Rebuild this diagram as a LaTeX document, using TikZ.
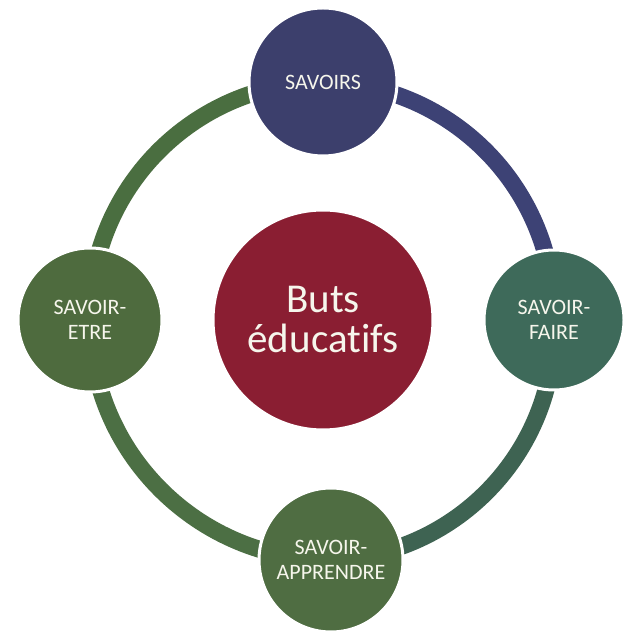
\documentclass[tikz,border=0pt]{standalone}
\usepackage{fontspec}
\setmainfont{Carlito}[Ligatures=NoCommon]
\definecolor{navyc}{HTML}{3C3F6C}
\definecolor{navyarc}{HTML}{3D4275}
\definecolor{greenL}{HTML}{4E6B3E}
\definecolor{tealR}{HTML}{3E6A5A}
\definecolor{greenB}{HTML}{4F6D42}
\definecolor{arcLT}{HTML}{4A6E40}
\definecolor{arcBL}{HTML}{4C6F44}
\definecolor{arcRB}{HTML}{3E6352}
\definecolor{maroon}{HTML}{8A1E32}
\definecolor{txt}{RGB}{246,246,236}
\tikzset{
  bubble/.style={circle, draw=white, line width=3pt, inner sep=0pt, text=txt, align=center,
                 font=\fontsize{22}{25}\selectfont},
  ringarc/.style={line width=17pt}
}
\begin{document}
\begin{tikzpicture}[x=1pt,y=1pt]
\useasboundingbox (0,0) rectangle (625,634);
\fill[white] (0,0) rectangle (625,634);
\coordinate (Tc) at (323,552);
\coordinate (Rc) at (554,314);
\coordinate (Bc) at (331,74);
\coordinate (Lc) at (90,314);
% ring arcs
\draw[ringarc, navyarc] (Tc) to[bend left=45] (Rc);
\draw[ringarc, arcRB] (Rc) to[bend left=45] (Bc);
\draw[ringarc, arcBL] (Bc) to[bend left=45] (Lc);
\draw[ringarc, arcLT] (Lc) to[bend left=45] (Tc);
% circles
\node[bubble, fill=navyc, minimum size=148pt] (T) at (Tc) {SAVOIRS};
\node[bubble, fill=tealR, minimum size=140pt] (R) at (Rc) {SAVOIR-\\FAIRE};
\node[bubble, fill=greenB, minimum size=144pt] (B) at (Bc) {SAVOIR-\\APPRENDRE};
\node[bubble, fill=greenL, minimum size=144pt] (L) at (Lc) {SAVOIR-\\ETRE};
\node[bubble, fill=maroon, minimum size=220pt, font=\fontsize{41}{40}\selectfont] (C) at (323,314) {Buts\\éducatifs};
\end{tikzpicture}
\end{document}
